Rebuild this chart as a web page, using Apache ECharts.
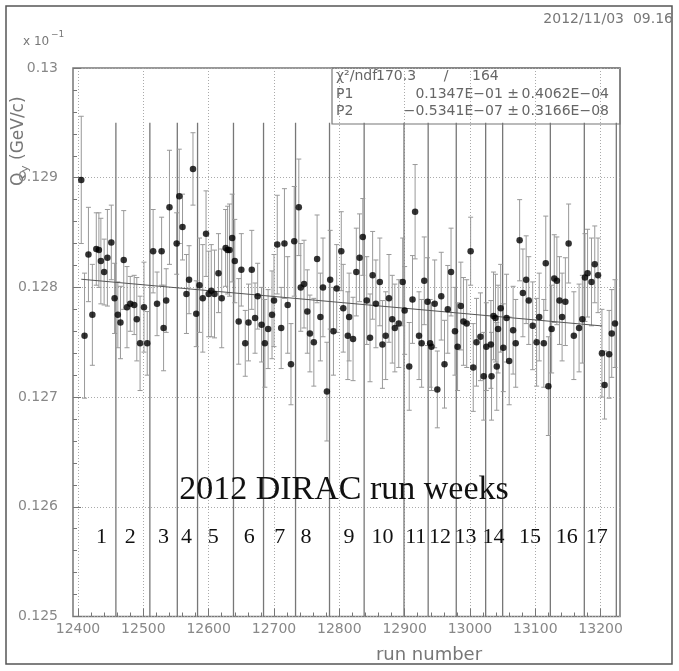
<!DOCTYPE html>
<html>
<head>
<meta charset="utf-8">
<script src="https://cdn.jsdelivr.net/npm/echarts@6/dist/echarts.min.js"></script>
<style>
  html, body { margin: 0; padding: 0; background: #fff; }
  #chart { width: 679px; height: 671px; }
</style>
</head>
<body>
<div id="chart"></div>
<script>
// Run numbers of the measured points
const runs = [12405,12410,12416,12422,12428,12432,12435,12440,12445,12451,12456,12461,12465,12470,12475,12480,12486,12490,12495,12501,
  12506,12515,12521,12528,12531,12535,12540,12551,12555,12560,12566,12570,12576,12581,12586,12591,12596,12600,12604,12609,
  12615,12620,12626,12629,12632,12636,12640,12646,12650,12656,12661,12666,12671,12675,12681,12686,12691,12697,12700,12705,
  12711,12716,12721,12726,12731,12738,12741,12746,12751,12755,12761,12766,12771,12775,12781,12786,12791,12796,12803,12806,
  12813,12815,12821,12826,12831,12836,12842,12847,12851,12856,12862,12866,12871,12876,12881,12885,12891,12897,12900,12907,
  12912,12916,12922,12926,12930,12935,12939,12941,12946,12950,12956,12961,12966,12971,12977,12981,12986,12990,12995,13001,
  13005,13010,13016,13021,13025,13032,13033,13036,13039,13041,13043,13047,13051,13056,13060,13066,13070,13076,13081,13086,
  13090,13096,13102,13106,13113,13116,13120,13125,13129,13133,13137,13141,13146,13151,13159,13167,13172,13176,13180,13186,
  13191,13196,13202,13206,13213,13217,13222];

// Q_y per run (axis shown in units of 10^-1 GeV/c)
const qy = [0.12898,0.12756,0.12830,0.12775,0.12835,0.12834,0.12824,0.12814,0.12827,0.12841,0.12790,0.12775,0.12768,0.12825,0.12782,0.12785,0.12784,0.12771,0.12749,0.12782,
  0.12749,0.12833,0.12785,0.12833,0.12763,0.12788,0.12873,0.12840,0.12883,0.12855,0.12794,0.12807,0.12908,0.12776,0.12802,0.12790,0.12849,0.12794,0.12797,0.12794,
  0.12813,0.12790,0.12836,0.12834,0.12834,0.12845,0.12824,0.12769,0.12816,0.12749,0.12768,0.12816,0.12772,0.12792,0.12766,0.12749,0.12762,0.12775,0.12788,0.12839,
  0.12763,0.12840,0.12784,0.12730,0.12842,0.12873,0.12800,0.12803,0.12778,0.12758,0.12750,0.12826,0.12773,0.12800,0.12705,0.12807,0.12760,0.12799,0.12833,0.12781,
  0.12756,0.12773,0.12753,0.12814,0.12827,0.12846,0.12788,0.12754,0.12811,0.12785,0.12805,0.12748,0.12756,0.12790,0.12771,0.12763,0.12767,0.12805,0.12779,0.12728,
  0.12789,0.12869,0.12756,0.12749,0.12806,0.12787,0.12749,0.12746,0.12785,0.12707,0.12792,0.12730,0.12780,0.12814,0.12760,0.12746,0.12783,0.12769,0.12767,0.12833,
  0.12727,0.12750,0.12755,0.12719,0.12746,0.12748,0.12719,0.12774,0.12772,0.12728,0.12762,0.12781,0.12745,0.12772,0.12733,0.12761,0.12749,0.12843,0.12795,0.12807,
  0.12788,0.12765,0.12750,0.12773,0.12749,0.12822,0.12710,0.12762,0.12808,0.12806,0.12788,0.12773,0.12787,0.12840,0.12756,0.12763,0.12771,0.12809,0.12813,0.12805,
  0.12821,0.12811,0.12740,0.12711,0.12739,0.12758,0.12767];

// Statistical error of each point
const qyErr = [0.00058,0.00057,0.00043,0.00046,0.00033,0.00034,0.00039,0.00030,0.00044,0.00034,0.00032,0.00030,0.00033,0.00045,0.00037,0.00025,0.00027,0.00038,0.00043,0.00041,
  0.00029,0.00038,0.00029,0.00031,0.00039,0.00029,0.00052,0.00028,0.00043,0.00030,0.00036,0.00031,0.00033,0.00030,0.00043,0.00049,0.00039,0.00039,0.00042,0.00040,
  0.00036,0.00045,0.00035,0.00040,0.00042,0.00040,0.00038,0.00039,0.00033,0.00030,0.00035,0.00036,0.00032,0.00030,0.00034,0.00040,0.00036,0.00040,0.00042,0.00045,
  0.00037,0.00050,0.00044,0.00037,0.00050,0.00044,0.00040,0.00040,0.00038,0.00035,0.00040,0.00040,0.00040,0.00045,0.00045,0.00045,0.00040,0.00040,0.00036,0.00040,
  0.00040,0.00040,0.00038,0.00040,0.00040,0.00035,0.00040,0.00040,0.00040,0.00040,0.00040,0.00040,0.00040,0.00040,0.00040,0.00040,0.00040,0.00040,0.00040,0.00040,
  0.00040,0.00043,0.00040,0.00040,0.00040,0.00040,0.00040,0.00040,0.00040,0.00035,0.00040,0.00040,0.00040,0.00040,0.00040,0.00040,0.00040,0.00040,0.00040,0.00031,
  0.00040,0.00040,0.00040,0.00040,0.00040,0.00040,0.00040,0.00040,0.00040,0.00040,0.00040,0.00040,0.00040,0.00040,0.00040,0.00040,0.00040,0.00037,0.00040,0.00040,
  0.00040,0.00040,0.00040,0.00040,0.00040,0.00043,0.00045,0.00040,0.00040,0.00040,0.00040,0.00040,0.00040,0.00036,0.00040,0.00040,0.00040,0.00040,0.00040,0.00040,
  0.00035,0.00034,0.00040,0.00031,0.00040,0.00040,0.00040];

// Run numbers separating the data-taking weeks
const weekEdges = [12458,12510,12552,12583,12638,12684,12733,12785,12838,12899,12936,12979,13024,13050,13123,13175,13224];
// Week numbers and the run where each is written
const weekNames = ['1','2','3','4','5','6','7','8','9','10','11','12','13','14','15','16','17'];
const weekLabelRuns = [12436,12480,12531,12566,12607,12662,12709,12749,12815,12866,12917,12954,12993,13036,13092,13148,13194];

// Linear fit Q = P1 + P2*run (in GeV/c); axis values are Q * 10
const fitP1 = 0.1347e-01;
const fitP2 = -0.5341e-07;
const fitRuns = [12405, 13213];

const FONT = 'DejaVu Sans';
const AXIS_GRAY = '#777';

const fitData = fitRuns.map(r => [r, (fitP1 + fitP2 * r) * 10]);
const pointData = runs.map((r, i) => [r, qy[i], qyErr[i]]);
const WEEK_LINE_TOP = 0.1295;
const WEEK_LABEL_Y = 0.12572;

const chart = echarts.init(document.getElementById('chart'));

chart.setOption({
  animation: false,
  backgroundColor: '#fff',
  grid: [
    { left: 73, top: 68, width: 547, height: 548.5, show: true,
      borderColor: AXIS_GRAY, borderWidth: 1.5, backgroundColor: 'transparent' },
    { left: 78, top: 68, width: 522.64, height: 548.5 }
  ],
  xAxis: [
    { gridIndex: 0, type: 'value', min: 0, max: 1, show: false },
    { gridIndex: 1, type: 'value', min: 12400, max: 13200, interval: 100,
      axisLine: { show: false },
      axisTick: { show: true, inside: true, length: 8, lineStyle: { color: AXIS_GRAY, width: 1 } },
      minorTick: { show: true, splitNumber: 5, length: 4, lineStyle: { color: AXIS_GRAY, width: 1 } },
      splitLine: { show: true, lineStyle: { color: '#aaa', width: 1, type: [1, 2] } },
      axisLabel: { margin: 6, color: '#888', fontFamily: FONT, fontSize: 14,
                   formatter: v => String(v) } }
  ],
  yAxis: [
    { gridIndex: 0, type: 'value', min: 0.125, max: 0.13, interval: 0.001,
      axisLine: { show: false },
      axisTick: { show: true, inside: true, length: 8, lineStyle: { color: AXIS_GRAY, width: 1 } },
      minorTick: { show: true, splitNumber: 5, length: 4, lineStyle: { color: AXIS_GRAY, width: 1 } },
      splitLine: { show: true, lineStyle: { color: '#aaa', width: 1, type: [1, 2] } },
      axisLabel: { margin: 15, color: '#888', fontFamily: FONT, fontSize: 14 } },
    { gridIndex: 1, type: 'value', min: 0.125, max: 0.13, show: false }
  ],
  series: [
    { // week boundaries
      type: 'custom', xAxisIndex: 1, yAxisIndex: 1, silent: true, z: 1,
      data: weekEdges.map(r => [r]),
      renderItem: (params, api) => {
        const a = api.coord([api.value(0), WEEK_LINE_TOP]);
        const b = api.coord([api.value(0), 0.125]);
        return { type: 'line', shape: { x1: a[0], y1: a[1], x2: b[0], y2: b[1] },
                 style: { stroke: '#777', lineWidth: 1.3 } };
      }
    },
    { // error bars
      type: 'custom', xAxisIndex: 1, yAxisIndex: 1, silent: true, z: 2,
      data: pointData,
      encode: { x: 0, y: 1 },
      renderItem: (params, api) => {
        const x = api.value(0), y = api.value(1), e = api.value(2);
        const t = api.coord([x, y + e]);
        const b = api.coord([x, y - e]);
        const w = 2.5;
        const st = { stroke: '#999', lineWidth: 1 };
        return { type: 'group', children: [
          { type: 'line', shape: { x1: t[0], y1: t[1], x2: b[0], y2: b[1] }, style: st },
          { type: 'line', shape: { x1: t[0] - w, y1: t[1], x2: t[0] + w, y2: t[1] }, style: st },
          { type: 'line', shape: { x1: b[0] - w, y1: b[1], x2: b[0] + w, y2: b[1] }, style: st }
        ] };
      }
    },
    { // fit
      type: 'line', xAxisIndex: 1, yAxisIndex: 1, silent: true, z: 3, clip: false,
      data: fitData, symbol: 'none',
      lineStyle: { color: '#555', width: 1 }
    },
    { // measured points
      type: 'scatter', xAxisIndex: 1, yAxisIndex: 1, silent: true, z: 4, clip: false,
      data: pointData.map(p => [p[0], p[1]]),
      symbol: 'circle', symbolSize: 6.5,
      itemStyle: { color: '#000' }
    },
    { // week numbers
      type: 'custom', xAxisIndex: 1, yAxisIndex: 1, silent: true, z: 5,
      data: weekLabelRuns.map((r, i) => [r, WEEK_LABEL_Y, i]),
      renderItem: (params, api) => {
        const p = api.coord([api.value(0), api.value(1)]);
        return { type: 'text', x: p[0], y: p[1],
                 style: { text: weekNames[api.value(2)], fill: '#111',
                          font: '22px "Liberation Serif"', align: 'center', verticalAlign: 'middle' } };
      }
    }
  ],
  graphic: [
    { type: 'rect', shape: { x: 6, y: 6, width: 666, height: 658 },
      style: { fill: 'none', stroke: '#555', lineWidth: 1.5 }, silent: true },
    { type: 'text', x: 673, y: 19,
      style: { text: '2012/11/03  09.16', fill: '#777', font: '14px "DejaVu Sans"', align: 'right', verticalAlign: 'middle' } },
    { type: 'text', x: 23, y: 42,
      style: { text: 'x 10', fill: '#777', font: '12px "DejaVu Sans"', align: 'left', verticalAlign: 'middle' } },
    { type: 'text', x: 51, y: 35,
      style: { text: '−1', fill: '#777', font: '9px "DejaVu Sans"', align: 'left', verticalAlign: 'middle' } },
    { type: 'group', x: 19, y: 186, rotation: Math.PI / 2,
      children: [
        { type: 'text', x: 0, y: 0,
          style: { text: 'Q', fill: '#777', font: '17px "DejaVu Sans"', align: 'left', verticalAlign: 'middle' } },
        { type: 'text', x: 14, y: 6,
          style: { text: 'y', fill: '#777', font: '11px "DejaVu Sans"', align: 'left', verticalAlign: 'middle' } },
        { type: 'text', x: 26, y: 0,
          style: { text: '(GeV/c)', fill: '#777', font: '17px "DejaVu Sans"', align: 'left', verticalAlign: 'middle' } }
      ] },
    { type: 'text', x: 429, y: 655,
      style: { text: 'run number', fill: '#777', font: '18px "DejaVu Sans"', align: 'center', verticalAlign: 'middle' } },
    { type: 'rect', shape: { x: 332, y: 68, width: 288, height: 56 },
      style: { fill: 'none', stroke: '#777', lineWidth: 1.2 }, silent: true },
    { type: 'text', x: 336, y: 76,
      style: { text: 'χ²/ndf', fill: '#666', font: '14px "DejaVu Sans"', align: 'left', verticalAlign: 'middle' } },
    { type: 'text', x: 376, y: 76,
      style: { text: '170.3', fill: '#666', font: '14px "DejaVu Sans"', align: 'left', verticalAlign: 'middle' } },
    { type: 'text', x: 446, y: 76,
      style: { text: '/', fill: '#666', font: '14px "DejaVu Sans"', align: 'center', verticalAlign: 'middle' } },
    { type: 'text', x: 472, y: 76,
      style: { text: '164', fill: '#666', font: '14px "DejaVu Sans"', align: 'left', verticalAlign: 'middle' } },
    { type: 'text', x: 336, y: 94,
      style: { text: 'P1', fill: '#666', font: '14px "DejaVu Sans"', align: 'left', verticalAlign: 'middle' } },
    { type: 'text', x: 519, y: 94,
      style: { text: '0.1347E−01 ±', fill: '#666', font: '14px "DejaVu Sans"', align: 'right', verticalAlign: 'middle' } },
    { type: 'text', x: 609, y: 94,
      style: { text: '0.4062E−04', fill: '#666', font: '14px "DejaVu Sans"', align: 'right', verticalAlign: 'middle' } },
    { type: 'text', x: 336, y: 111,
      style: { text: 'P2', fill: '#666', font: '14px "DejaVu Sans"', align: 'left', verticalAlign: 'middle' } },
    { type: 'text', x: 519, y: 111,
      style: { text: '−0.5341E−07 ±', fill: '#666', font: '14px "DejaVu Sans"', align: 'right', verticalAlign: 'middle' } },
    { type: 'text', x: 609, y: 111,
      style: { text: '0.3166E−08', fill: '#666', font: '14px "DejaVu Sans"', align: 'right', verticalAlign: 'middle' } },
    { type: 'text', x: 344, y: 490, z: 10,
      style: { text: '2012 DIRAC run weeks', fill: '#111', font: '34px "Liberation Serif"', align: 'center', verticalAlign: 'middle' } }
  ]
});
</script>
</body>
</html>
